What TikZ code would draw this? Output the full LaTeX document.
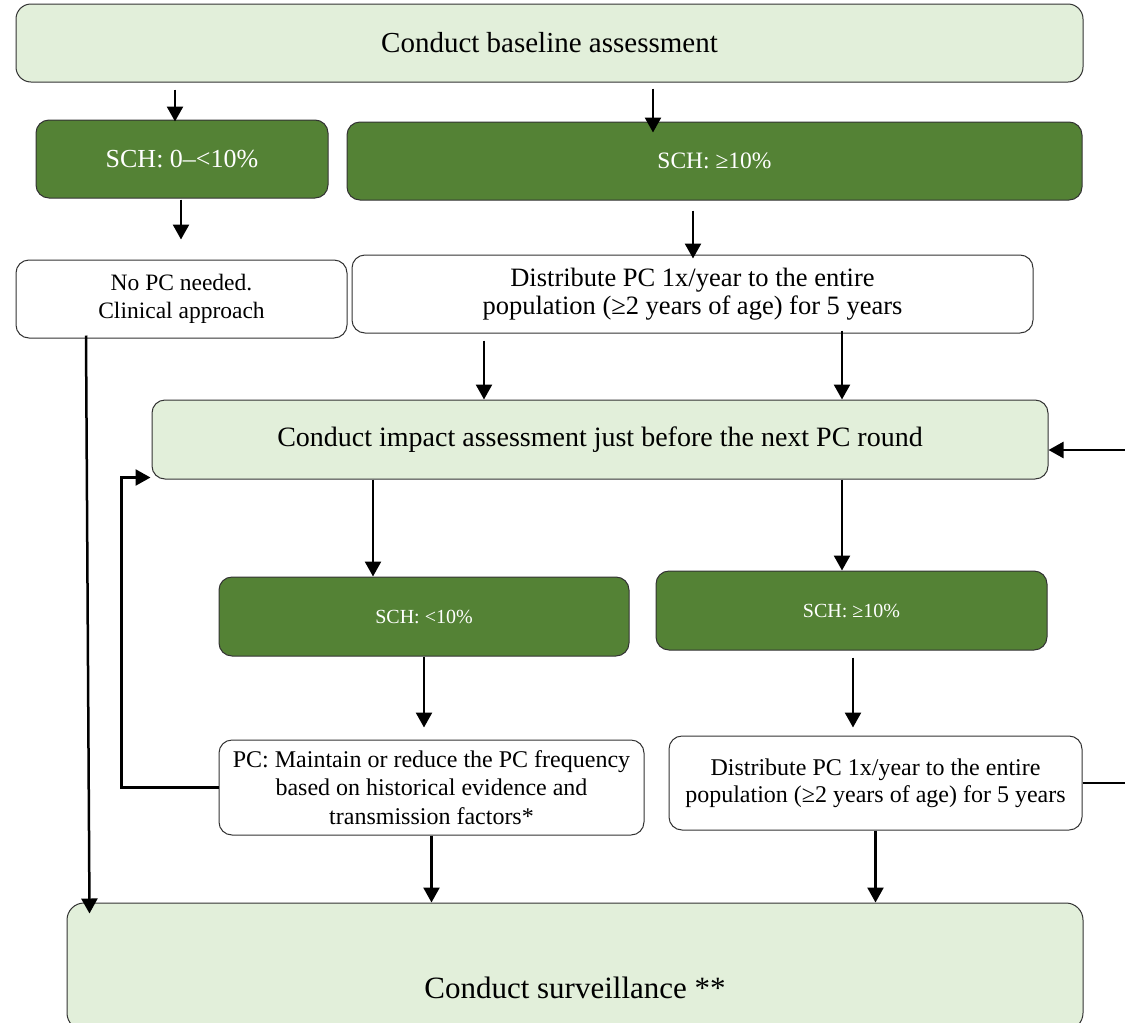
\documentclass[tikz,border=0pt]{standalone}
\usepackage{fontspec}
\setmainfont{Liberation Serif}
\usetikzlibrary{arrows.meta,calc}
\definecolor{lgreen}{HTML}{E2EFDA}
\definecolor{dgreen}{HTML}{548235}
\definecolor{edgec}{HTML}{333333}
\newcommand{\fsz}[2]{\fontsize{#1}{#2}\selectfont}
\tikzset{
  box/.style={draw=edgec, line width=1pt, rounded corners=13pt, inner sep=0pt, align=center},
  lbox/.style={box, fill=lgreen},
  dbox/.style={box, fill=dgreen, text=white},
  wbox/.style={box, fill=white},
  arr/.style={line width=2.5pt, -{Triangle[length=15pt,width=16pt]}},
}
\begin{document}
\begin{tikzpicture}[x=1pt,y=-1pt]
\useasboundingbox (0,0) rectangle (1125,1023);
\clip (0,0) rectangle (1125,1023);
% nodes
\node[lbox, rounded corners=15pt, minimum width=1067pt, minimum height=78pt, font={\fsz{29}{33}}] (base) at (549.5,43) {Conduct baseline assessment};
\node[dbox, minimum width=292pt, minimum height=78pt, font={\fsz{26}{30}}] (sch1) at (182,159) {SCH: 0–<10\%};
\node[dbox, minimum width=735pt, minimum height=78pt, font={\fsz{23.5}{27}}] (sch2) at (714.5,161) {SCH: ≥10\%};
\node[wbox, minimum width=331pt, minimum height=78pt, font={\fsz{23.5}{28.5}}] (nopc) at (181.5,299) {No PC needed.\\Clinical approach};
\node[wbox, minimum width=681pt, minimum height=78pt, font={\fsz{26.5}{27.5}}] (dist1) at (692.5,294) {Distribute PC 1x/year to the entire\\population (≥2 years of age) for 5 years};
\node[lbox, minimum width=896pt, minimum height=79pt, font={\fsz{28}{32}}] (impact) at (600,439.5) {Conduct impact assessment just before the next PC round};
\node[dbox, minimum width=410pt, minimum height=79pt, font={\fsz{20}{23}}] (sch3) at (424,616.5) {SCH: <10\%};
\node[dbox, minimum width=391pt, minimum height=79pt, font={\fsz{20}{23}}] (sch4) at (851.5,610.5) {SCH: ≥10\%};
\node[wbox, minimum width=425pt, minimum height=95pt, font={\fsz{24}{28.5}}] (pcm) at (431.5,787.5) {PC: Maintain or reduce the PC frequency\\based on historical evidence and\\transmission factors*};
\node[wbox, minimum width=413pt, minimum height=94pt, font={\fsz{24}{27}}] (dist2) at (875.5,783) {Distribute PC 1x/year to the entire\\population (≥2 years of age) for 5 years};
\node[lbox, rounded corners=17pt, minimum width=1016pt, minimum height=127pt, font={\fsz{31}{35}}, text height=70pt, text depth=7pt] (surv) at (575,966.5) {Conduct surveillance **};
% arrows
\draw[arr] ($(base.south -| sch1.north)+(-7,7)$) -- ($(sch1.north)+(-7,2)$);
\draw[arr] ($(base.south -| sch2.north)+(-61.5,6)$) -- ($(sch2.north)+(-61.5,11)$);
\draw[arr] ($(sch1.south)+(-1,1)$) -- ($(nopc.north -| sch1.south)+(-1,-20)$);
\draw[arr] ($(sch2.south)+(-21.5,10)$) -- ($(dist1.north -| sch2.south)+(-21.5,4)$);
\draw[arr] ($(dist1.south)+(-208.5,7)$) -- ($(impact.north -| dist1.south)+(-208.5,0)$);
\draw[arr] ($(dist1.south)+(149.5,-3)$) -- ($(impact.north -| dist1.south)+(149.5,0)$);
\draw[arr] ($(impact.south -| sch3.north)+(-51,0)$) -- ($(sch3.north)+(-51,0)$);
\draw[arr] ($(impact.south -| sch4.north)+(-9.5,0)$) -- ($(sch4.north)+(-9.5,0)$);
\draw[arr] (sch3.south) -- ($(pcm.north -| sch3.south)+(0,-12)$);
\draw[arr] ($(sch4.south)+(1.5,7)$) -- ($(dist2.north -| sch4.south)+(1.5,-8)$);
\draw[arr] (pcm.south) -- (surv.north -| pcm.south);
\draw[arr] (dist2.south) -- (surv.north -| dist2.south);
\draw[arr] ($(nopc.south)+(-95.5,-3)$) -- ($(surv.north west)+(23,11)$);
\draw[arr] (pcm.west) -- ++(-97,0) |- ($(impact.south west)+(-1,-2)$);
\draw[arr] (dist2.east) -- ++(50,0) |- ($(impact.east)+(0,10.5)$);
\end{tikzpicture}
\end{document}
